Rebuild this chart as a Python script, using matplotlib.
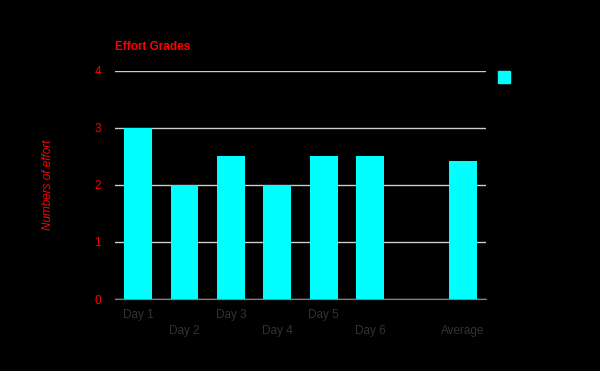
import numpy as np
import matplotlib.pyplot as plt
from matplotlib.patches import Patch

# chart data
categories = ["Day 1", "Day 2", "Day 3", "Day 4", "Day 5", "Day 6", "", "Average"]
efforts = [3, 2, 2.5, 2, 2.5, 2.5, np.nan, 2.42]
y_ticks = [0, 1, 2, 3, 4]

plt.rcParams['font.family'] = ['Liberation Sans', 'DejaVu Sans']

fig = plt.figure(figsize=(6, 3.71), dpi=100, facecolor='black')
ax = fig.add_axes([115/600, 1 - 299/371, 371/600, 228/371])
ax.set_facecolor('black')

x = np.arange(len(categories))
ax.bar(x, efforts, width=0.6, color='#00ffff', zorder=3)

ax.set_xlim(-0.5, len(categories) - 0.5)
ax.set_ylim(0, 4)
ax.set_yticks(y_ticks)
ax.set_yticklabels([str(t) for t in y_ticks], color='red', fontsize=8.5)
ax.yaxis.grid(True, color='#cccccc', linewidth=1)
ax.set_axisbelow(True)

# staggered category labels: even on the upper row, odd on the lower row
ax.set_xticks(x[::2])
ax.set_xticklabels(categories[::2], color='#333333', fontsize=8.5)
ax.set_xticks(x[1::2], minor=True)
ax.set_xticklabels(categories[1::2], minor=True, color='#333333', fontsize=8.5)
ax.tick_params(axis='x', which='major', length=0, pad=7)
ax.tick_params(axis='x', which='minor', length=0, pad=19)
ax.tick_params(axis='y', length=0, pad=10)

for s in ['top', 'right', 'left']:
    ax.spines[s].set_visible(False)
ax.spines['bottom'].set_color('#808080')

ax.set_title("Effort Grades", loc='left', color='red', fontsize=8.5,
             fontweight='bold', pad=15)
ax.set_ylabel("Numbers of effort", color='red', fontsize=8.5, style='italic')
ax.yaxis.set_label_coords(-0.164, 0.5)

ax.legend(handles=[Patch(color='#00ffff')], labels=[''], frameon=False,
          loc='upper left', bbox_to_anchor=(1.017, 1.027), borderpad=0,
          handlelength=1.0, handleheight=1.2, handletextpad=0, fontsize=8.6)

fig.savefig("out.png", dpi=100, facecolor='black')
